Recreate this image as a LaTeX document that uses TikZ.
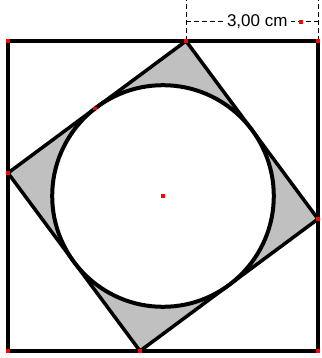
\documentclass[tikz,border=0pt]{standalone}
\usepackage{fontspec}
\setmainfont{Liberation Sans}
\usetikzlibrary{positioning,calc}
\definecolor{FillGray}{RGB}{192,192,192}
\definecolor{DotRed}{RGB}{255,0,0}

\begin{document}
\begin{tikzpicture}[x=1pt, y=-1pt,
    dot/.style={rectangle, fill=DotRed, inner sep=0pt, minimum size=3.5pt},
    frame/.style={line width=4.5pt, line join=miter},
    edgeline/.style={line width=3.5pt, line join=miter},
    dimline/.style={line width=1pt, dash pattern=on 5pt off 3pt},
    lab/.style={fill=white, inner sep=3pt, font=\fontsize{17}{19}\selectfont}
]
    \useasboundingbox (0,0) rectangle (321,358);

    % outer square
    \coordinate (A) at (8,41);
    \coordinate (B) at (318,41);
    \coordinate (C) at (318,351);
    \coordinate (D) at (8,351);
    % inner square, corners on the sides
    \coordinate (P) at ($(A)+(178,0)$);
    \coordinate (Q) at ($(B)+(0,178)$);
    \coordinate (R) at ($(C)+(-178,0)$);
    \coordinate (S) at ($(D)+(0,-178)$);
    \coordinate (O) at ($(P)!0.5!(R)$);
    \coordinate (T) at ($(S)!0.49!(P)$);

    \fill[FillGray] (P) -- (Q) -- (R) -- (S) -- cycle;
    \fill[white] (O) circle (110.8);
    \draw[edgeline, line width=4pt] (O) circle (110.8);
    \draw[edgeline] (P) -- (Q) -- (R) -- (S) -- cycle;
    \draw[frame] (A) -- (B) -- (C) -- (D) -- cycle;

    % dimension
    \coordinate (dimL) at ($(P)+(0,-19)$);
    \coordinate (dimR) at ($(B)+(0,-19)$);
    \draw[dimline] (P) -- (P |- 0,0);
    \draw[dimline] (B) -- (B |- 0,0);
    \draw[dimline] (dimL) -- node[lab, pos=0.54] (len) {3,00 cm} (dimR);
    \node[dot] at ($(dimL)!0.87!(dimR)$) {};

    \foreach \p in {A,B,C,D,P,Q,R,S,O,T}
        \node[dot] at (\p) {};
\end{tikzpicture}
\end{document}
